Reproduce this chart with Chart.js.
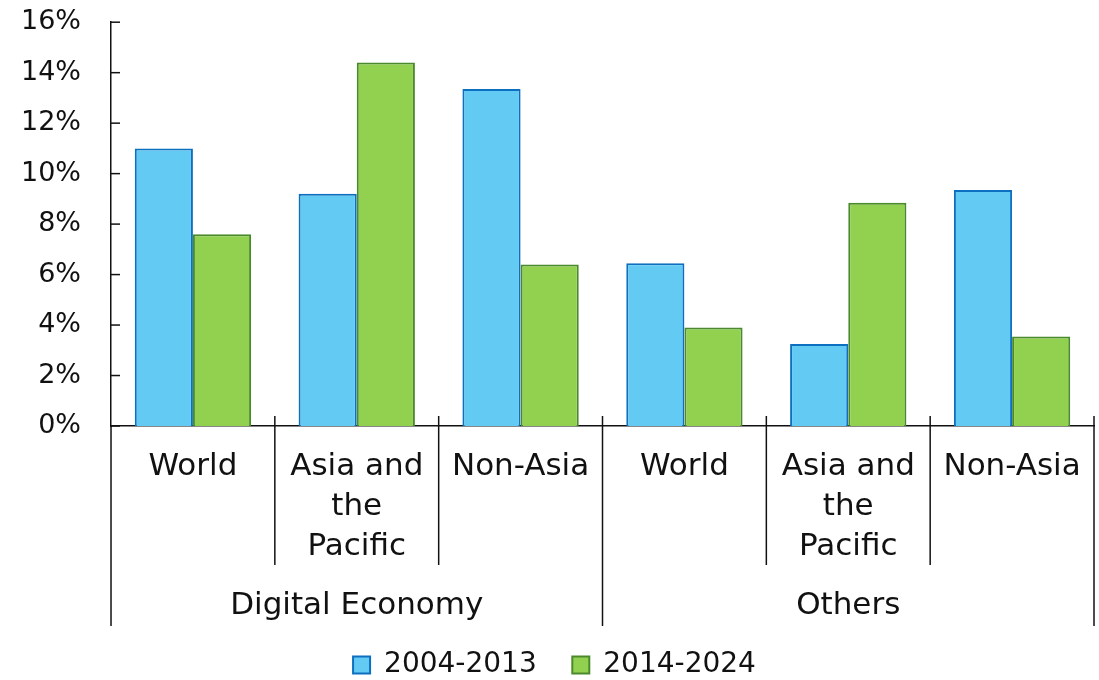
<!DOCTYPE html>
<html lang="en">
<head>
<meta charset="UTF-8">
<title>Digital Economy vs Others</title>
<script src="https://cdn.jsdelivr.net/npm/chart.js"></script>
<style>
    body { margin: 0; background: #fff; }
    .wrap { position: relative; width: 1099px; height: 680px; }
</style>
</head>
<body>
<div class="wrap"><canvas id="chart"></canvas></div>
<script>
    const categories = [['World'], ['Asia and', 'the', 'Pacific'], ['Non-Asia'], ['World'], ['Asia and', 'the', 'Pacific'], ['Non-Asia']];
    const groups = ['Digital Economy', 'Others'];
    const groupSize = 3;
    const seriesNames = ['2004-2013', '2014-2024'];
    const period1 = [11.0, 9.2, 13.35, 6.45, 3.25, 9.35];
    const period2 = [7.6, 14.4, 6.4, 3.9, 8.85, 3.55];
    const yMax = 16;
    const yStep = 2;

    const FONT = 'DejaVu Sans';
    const INK = '#111111';

    // inward y ticks, category separators and the outer group row
    const groupAxis = {
        id: 'groupAxis',
        afterDraw(chart) {
            const ctx = chart.ctx;
            const x = chart.scales.x, y = chart.scales.y;
            const n = categories.length;
            const step = x.width / n;
            const axisY = y.bottom;
            ctx.save();
            ctx.strokeStyle = INK;
            ctx.lineWidth = 1.5;
            y.ticks.forEach(t => {
                const py = y.getPixelForValue(t.value);
                ctx.beginPath();
                ctx.moveTo(x.left, py);
                ctx.lineTo(x.left + 9, py);
                ctx.stroke();
            });
            for (let i = 0; i <= n; i++) {
                const px = x.left + i * step;
                const outer = i % groupSize === 0;
                ctx.beginPath();
                ctx.moveTo(px, i === 0 ? axisY : axisY - 10);
                ctx.lineTo(px, outer ? axisY + 200 : axisY + 139);
                ctx.stroke();
            }
            ctx.fillStyle = INK;
            ctx.font = '31px "' + FONT + '"';
            ctx.textAlign = 'center';
            ctx.textBaseline = 'middle';
            groups.forEach((g, gi) => {
                const cx = x.left + (gi * groupSize + groupSize / 2) * step;
                ctx.fillText(g, cx, axisY + 180);
            });
            ctx.restore();
        }
    };

    new Chart(document.getElementById('chart'), {
        type: 'bar',
        data: {
            labels: categories,
            datasets: [
                { label: seriesNames[0], data: period1, backgroundColor: '#63CBF3', borderColor: '#0C6FBF', borderWidth: 2 },
                { label: seriesNames[1], data: period2, backgroundColor: '#92D050', borderColor: '#4A8A2C', borderWidth: 2 }
            ]
        },
        options: {
            responsive: true,
            maintainAspectRatio: false,
            animation: false,
            layout: { padding: { top: 22, right: 5, left: 15, bottom: -9 } },
            datasets: { bar: { barPercentage: 1, categoryPercentage: 0.71 } },
            scales: {
                x: {
                    grid: { display: false, tickLength: 11 },
                    border: { display: true, color: INK, width: 1.5 },
                    ticks: { color: INK, font: { family: FONT, size: 31, lineHeight: 1.29 }, padding: 10, maxRotation: 0, autoSkip: false },
                    afterFit: s => { s.height = 225; }
                },
                y: {
                    min: 0,
                    max: yMax,
                    grid: { display: false, tickLength: 24 },
                    border: { display: true, color: INK, width: 1.5 },
                    ticks: { stepSize: yStep, color: INK, padding: 6, font: { family: FONT, size: 27 }, callback: v => v + '%' }
                }
            },
            plugins: {
                legend: {
                    position: 'bottom',
                    labels: {
                        color: INK, font: { family: FONT, size: 28 }, boxWidth: 17, boxHeight: 17, padding: 0,
                        generateLabels: chart => Chart.defaults.plugins.legend.labels.generateLabels(chart)
                            .map((l, i) => ({ ...l, text: i === 0 ? l.text + '    ' : l.text }))
                    }
                },
                tooltip: { enabled: false }
            }
        },
        plugins: [groupAxis]
    });
</script>
</body>
</html>
